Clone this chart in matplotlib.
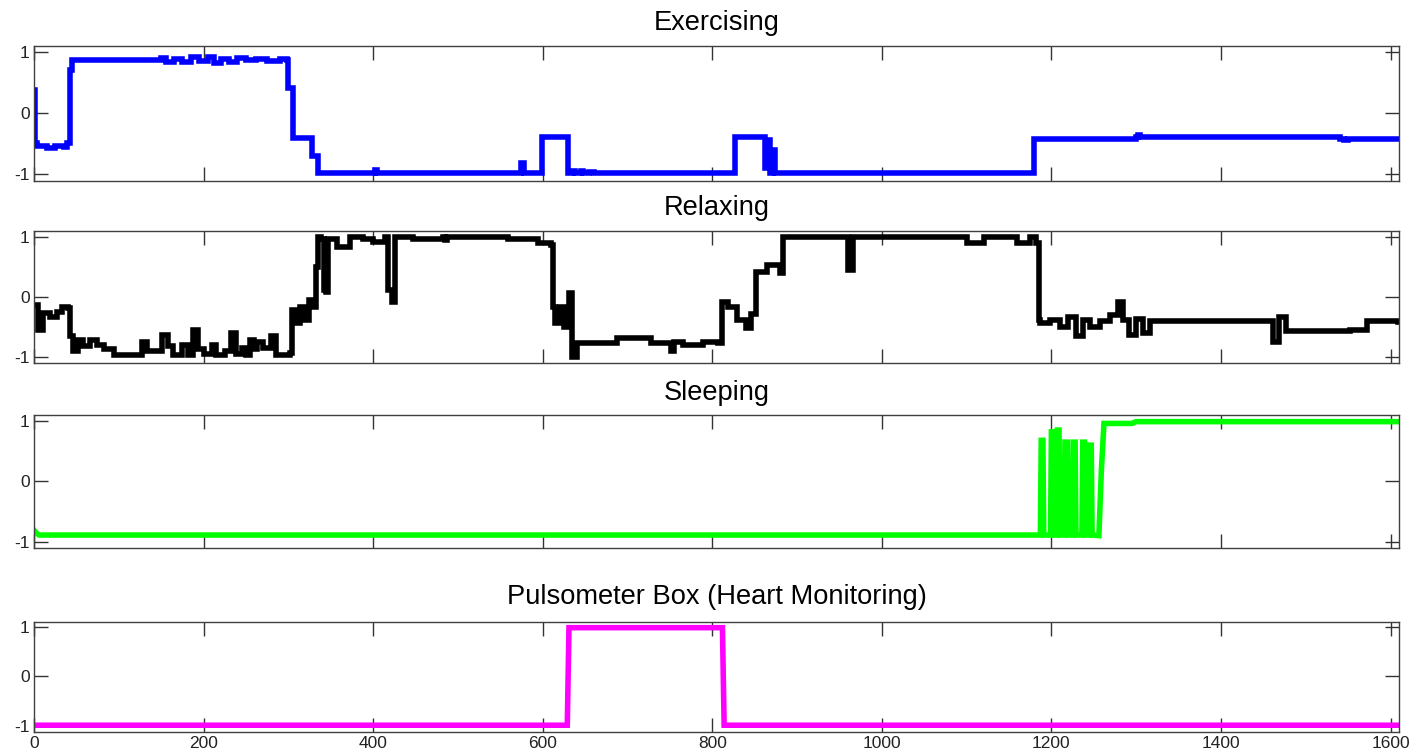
import numpy as np
import matplotlib.pyplot as plt

plt.rcParams['font.family'] = ['Liberation Sans', 'DejaVu Sans']
plt.rcParams['axes.unicode_minus'] = False

# Exercising trace (sample index, value), held until next sample
ex_x = [0, 1, 4, 15, 25, 35, 39, 42, 45, 80, 143, 150, 156, 165, 175, 185, 195, 205, 212,
        220, 230, 240, 250, 262, 275, 290, 298, 300, 305, 325, 328, 335, 400, 402, 404,
        573, 574, 577, 578, 593, 599, 628, 630, 636, 638, 645, 648, 655, 660, 821, 827,
        860, 862, 866, 868, 872, 874, 1174, 1180, 1300, 1302, 1304, 1540, 1545, 1550, 1609]
ex_y = [0.38, -0.50, -0.55, -0.57, -0.55, -0.56, -0.50, 0.70, 0.86, 0.86, 0.86, 0.90, 0.84,
        0.88, 0.83, 0.91, 0.85, 0.92, 0.81, 0.89, 0.84, 0.90, 0.86, 0.88, 0.85, 0.88, 0.86,
        0.40, -0.41, -0.41, -0.70, -0.99, -0.99, -0.94, -0.99, -0.99, -0.82, -0.82, -0.99,
        -0.99, -0.40, -0.40, -0.98, -0.95, -0.99, -0.95, -0.99, -0.96, -0.99, -0.99, -0.40,
        -0.40, -0.90, -0.45, -0.98, -0.60, -0.98, -0.98, -0.42, -0.40, -0.36, -0.40, -0.42,
        -0.45, -0.42, -0.42]

# Relaxing trace
rx_x = [0, 5, 11, 19, 27, 33, 40, 43, 46, 52, 58, 66, 74, 82, 94, 123, 127, 133, 145, 151,
        158, 164, 174, 182, 188, 194, 200, 210, 215, 225, 232, 238, 245, 250, 255, 259, 263,
        270, 280, 286, 302, 304, 310, 314, 318, 324, 329, 333, 335, 339, 342, 344, 347, 357,
        373, 388, 400, 414, 418, 422, 426, 447, 483, 485, 487, 559, 594, 610, 612, 614, 620,
        625, 631, 635, 641, 688, 728, 751, 755, 766, 789, 807, 811, 819, 829, 840, 846, 852,
        864, 880, 884, 958, 960, 964, 966, 1088, 1100, 1120, 1143, 1159, 1175, 1182, 1185,
        1187, 1198, 1210, 1220, 1229, 1237, 1245, 1257, 1269, 1279, 1284, 1292, 1300, 1308,
        1316, 1453, 1461, 1469, 1477, 1552, 1572, 1609]
rx_y = [-0.14, -0.55, -0.27, -0.33, -0.25, -0.17, -0.19, -0.66, -0.91, -0.72, -0.83, -0.72,
        -0.80, -0.88, -0.97, -0.97, -0.75, -0.91, -0.91, -0.64, -0.83, -0.97, -0.80, -0.97,
        -0.55, -0.88, -0.95, -0.80, -0.97, -0.90, -0.60, -0.95, -0.85, -0.97, -0.72, -0.88,
        -0.75, -0.86, -0.66, -0.97, -0.94, -0.22, -0.44, -0.17, -0.39, -0.05, -0.17, 0.50,
        1.00, 0.97, 0.11, 0.08, 0.97, 0.83, 0.99, 0.97, 0.91, 1.00, 0.11, -0.08, 0.99, 0.97,
        1.00, 0.94, 1.00, 0.97, 0.89, 0.86, -0.17, -0.44, -0.17, -0.50, 0.06, -1.00, -0.77,
        -0.69, -0.77, -0.91, -0.75, -0.80, -0.75, -0.77, -0.08, -0.17, -0.39, -0.52, -0.28,
        0.41, 0.53, 0.39, 1.00, 1.00, 0.44, 0.44, 1.00, 1.00, 0.89, 0.99, 1.00, 0.89, 1.00,
        0.89, -0.39, -0.44, -0.39, -0.50, -0.33, -0.66, -0.39, -0.50, -0.41, -0.30, -0.08,
        -0.39, -0.64, -0.37, -0.61, -0.41, -0.41, -0.75, -0.33, -0.58, -0.56, -0.41, -0.42]

# Sleeping trace
sl_x = [0, 3, 6, 1187, 1188, 1190, 1191, 1199, 1200, 1202, 1203, 1206, 1207, 1209, 1210,
        1215, 1216, 1219, 1220, 1225, 1226, 1228, 1229, 1236, 1237, 1239, 1240, 1244, 1245,
        1247, 1248, 1256, 1259, 1262, 1295, 1300, 1609]
sl_y = [-0.81, -0.86, -0.89, -0.89, 0.68, 0.68, -0.89, -0.89, 0.82, 0.82, -0.89, -0.89,
        0.85, 0.85, -0.89, -0.89, 0.65, 0.65, -0.89, -0.89, 0.65, 0.65, -0.89, -0.89, 0.65,
        0.65, -0.89, -0.89, 0.60, 0.60, -0.89, -0.90, 0.20, 0.96, 0.96, 0.99, 0.99]

# Pulsometer box
pu_x = [0, 629, 631, 812, 814, 1609]
pu_y = [-0.98, -0.98, 0.98, 0.98, -0.98, -0.98]

titles = ['Exercising', 'Relaxing', 'Sleeping', 'Pulsometer Box (Heart Monitoring)']
colors = ['#0000ff', '#000000', '#00ff00', '#ff00ff']
series = [(ex_x, ex_y), (rx_x, rx_y), (sl_x, sl_y), (pu_x, pu_y)]
styles = ['steps-post', 'steps-post', 'default', 'default']
xticks = np.arange(0, 1601, 200)

fig = plt.figure(figsize=(14.11, 7.53), dpi=100)
W, H = 1411, 753
left, right = 34, 1399
boxes = [(45.7, 180.7), (230.7, 363.3), (415, 548.3), (621.7, 731.7)]
pads = [11, 11, 11, 13]

for i, (top, bot) in enumerate(boxes):
    ax = fig.add_axes([left / W, 1 - bot / H, (right - left) / W, (bot - top) / H])
    x, y = series[i]
    ax.plot(x, y, color=colors[i], lw=4, drawstyle=styles[i], solid_joinstyle='miter')
    ax.set_xlim(0, 1610)
    ax.set_ylim(-1.11, 1.1)
    ax.set_xticks(xticks)
    ax.set_yticks([-1, 0, 1])
    ax.tick_params(direction='in', length=10, width=1, top=True, right=True,
                   labelsize=12.5, colors='#333333', labelcolor='#222222', pad=3)
    if i < 3:
        ax.set_xticklabels([])
    for s in ax.spines.values():
        s.set_color('#404040')
        s.set_linewidth(1)
    ax.set_title(titles[i], fontsize=19.6, pad=pads[i])

fig.savefig('out.png', dpi=100)
